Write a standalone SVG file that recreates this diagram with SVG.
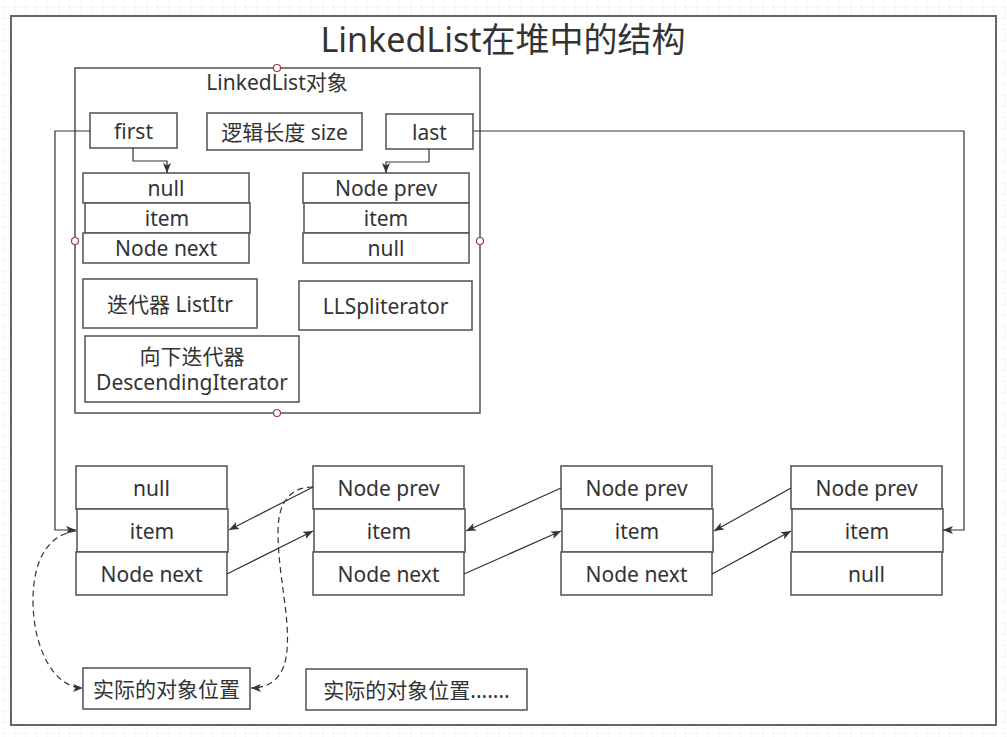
<svg xmlns="http://www.w3.org/2000/svg" width="1007" height="737" viewBox="0 0 1007 737">
<style>
.box{fill:#fff;stroke:#5a5a5a;stroke-width:1.6}
.t{font-family:"Noto Sans","Noto Sans CJK SC",sans-serif;font-size:21px;fill:#333;text-anchor:middle;dominant-baseline:central}
.c{fill:none;stroke:#333;stroke-width:1.2}
.d{fill:none;stroke:#333;stroke-width:1.2;stroke-dasharray:6 4}
.pt{fill:#fff;stroke:#a33a3a;stroke-width:1.2}
</style>
<defs>
<pattern id="grid" x="3.3" y="6.7" width="11" height="11" patternUnits="userSpaceOnUse">
<path d="M0,0 H11 M0,0 V11" fill="none" stroke="#ececec" stroke-width="1"/>
</pattern>
<marker id="arr" viewBox="0 0 10 8" refX="10" refY="4" markerWidth="10" markerHeight="8" markerUnits="userSpaceOnUse" orient="auto">
<path d="M0,0 L10,4 L0,8 L2.5,4 z" fill="#333"/>
</marker>
</defs>
<rect width="1007" height="737" fill="#fff"/>
<rect width="1007" height="737" fill="url(#grid)"/>
<g id="frame">
<rect x="11" y="16" width="985" height="709" fill="#fff" stroke="#666" stroke-width="2"/>
<text class="t" x="503" y="39" style="font-size:34px">LinkedList在堆中的结构</text>
</g>
<g id="linkedlist-object">
<rect class="box" x="75" y="68" width="405" height="345"/>
<text class="t" x="277" y="82">LinkedList对象</text>
</g>
<g id="first"><rect class="box" x="90" y="113" width="87" height="35"/><text class="t" x="133.5" y="130.5">first</text></g>
<g id="size"><rect class="box" x="207" y="113" width="155" height="37"/><text class="t" x="284.5" y="131.5">逻辑长度 size</text></g>
<g id="last"><rect class="box" x="386" y="114" width="87" height="35"/><text class="t" x="429.5" y="131.5">last</text></g>
<g id="first-node">
<rect class="box" x="83" y="173" width="166" height="30"/><text class="t" x="166" y="188">null</text>
<rect class="box" x="85" y="203" width="165" height="30"/><text class="t" x="167" y="218">item</text>
<rect class="box" x="83" y="233" width="166" height="30"/><text class="t" x="166" y="248">Node next</text>
</g>
<g id="last-node">
<rect class="box" x="303" y="173" width="166" height="30"/><text class="t" x="386" y="188">Node prev</text>
<rect class="box" x="304" y="203" width="165" height="30"/><text class="t" x="386" y="218">item</text>
<rect class="box" x="303" y="233" width="166" height="30"/><text class="t" x="386" y="248">null</text>
</g>
<g id="listitr"><rect class="box" x="83" y="279" width="174" height="49"/><text class="t" x="170" y="303.5">迭代器 ListItr</text></g>
<g id="llspliterator"><rect class="box" x="299" y="281" width="173" height="49"/><text class="t" x="385.5" y="305.5">LLSpliterator</text></g>
<g id="descending"><rect class="box" x="85" y="336" width="214" height="66"/><text class="t" x="192" y="356">向下迭代器</text><text class="t" x="192" y="382">DescendingIterator</text></g>
<g id="node1">
<rect class="box" x="76" y="466" width="151" height="43"/><text class="t" x="151.5" y="487.5">null</text>
<rect class="box" x="77" y="509" width="151" height="43"/><text class="t" x="152" y="530.5">item</text>
<rect class="box" x="76" y="552" width="151" height="43"/><text class="t" x="151.5" y="573.5">Node next</text>
</g>
<g id="node2">
<rect class="box" x="313" y="466" width="151" height="43"/><text class="t" x="388.5" y="487.5">Node prev</text>
<rect class="box" x="314" y="509" width="151" height="43"/><text class="t" x="389" y="530.5">item</text>
<rect class="box" x="313" y="552" width="151" height="43"/><text class="t" x="388.5" y="573.5">Node next</text>
</g>
<g id="node3">
<rect class="box" x="561" y="466" width="151" height="43"/><text class="t" x="636.5" y="487.5">Node prev</text>
<rect class="box" x="562" y="509" width="151" height="43"/><text class="t" x="637" y="530.5">item</text>
<rect class="box" x="561" y="552" width="151" height="43"/><text class="t" x="636.5" y="573.5">Node next</text>
</g>
<g id="node4">
<rect class="box" x="791" y="466" width="151" height="43"/><text class="t" x="866.5" y="487.5">Node prev</text>
<rect class="box" x="792" y="509" width="151" height="43"/><text class="t" x="867" y="530.5">item</text>
<rect class="box" x="791" y="552" width="151" height="43"/><text class="t" x="866.5" y="573.5">null</text>
</g>
<g id="pos1"><rect class="box" x="83" y="668" width="167" height="41"/><text class="t" x="166.5" y="688.5">实际的对象位置</text></g>
<g id="pos2"><rect class="box" x="306" y="669" width="221" height="41"/><text class="t" x="416.5" y="689.5">实际的对象位置.......</text></g>
<g id="connectors">
<path class="c" d="M133,148 V161 H167 V173" marker-end="url(#arr)"/>
<path class="c" d="M429,149 V162 H386 V173" marker-end="url(#arr)"/>
<path class="c" d="M90,131 H55 V530 H76" marker-end="url(#arr)"/>
<path class="c" d="M473,131 H964 V530 H943" marker-end="url(#arr)"/>
<path class="c" d="M313,487 L229,530" marker-end="url(#arr)"/>
<path class="c" d="M227,574 L313,531" marker-end="url(#arr)"/>
<path class="c" d="M561,488 L466,531" marker-end="url(#arr)"/>
<path class="c" d="M464,574 L561,531" marker-end="url(#arr)"/>
<path class="c" d="M791,488 L714,531" marker-end="url(#arr)"/>
<path class="c" d="M712,574 L791,531" marker-end="url(#arr)"/>
<path class="d" d="M76,531 C45,535 33,565 33,600 C33,650 55,688 83,688" marker-end="url(#arr)"/>
<path class="d" d="M313,487 C292,487 278,500 278,532 C278,575 290,615 287,650 C285,676 272,688 251,688" marker-end="url(#arr)"/>
</g>
<g id="handles">
<circle class="pt" cx="277" cy="68" r="3.5"/>
<circle class="pt" cx="75" cy="241" r="3.5"/>
<circle class="pt" cx="480" cy="241" r="3.5"/>
<circle class="pt" cx="277" cy="413" r="3.5"/>
</g>
</svg>
